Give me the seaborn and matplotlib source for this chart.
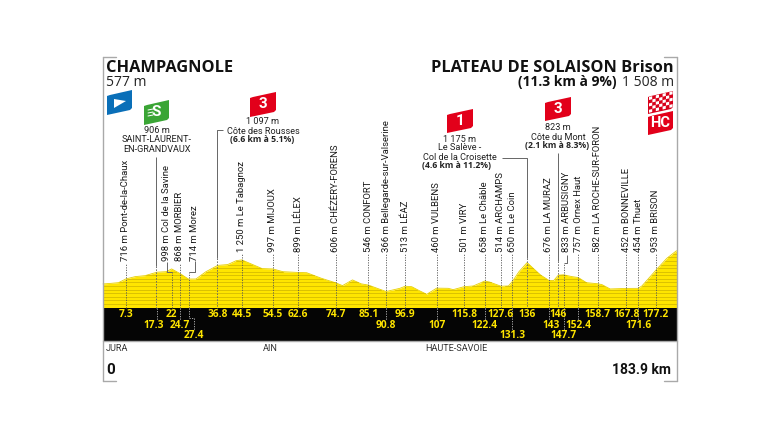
"""Stage profile: Champagnole to Plateau de Solaison."""

import matplotlib.pyplot as plt
import numpy as np
import pandas as pd
import seaborn as sns
from matplotlib.patches import Polygon

# profile line
PROFILE_KM = [0, 2.7, 5, 7.3, 10.3, 13.5, 17.3, 20.3, 22, 24.7, 27.4, 29.8, 33, 36.8, 40, 42.7, 44.5,
              48, 51, 54.5, 57.7, 62.6, 65.3, 70, 74.7, 76.8, 80, 82.8, 85.1, 88.7, 90.8, 92.5, 95.2,
              96.9, 99, 101, 103.8, 107, 110.7, 112.3, 115.8, 118.7, 122.4, 124, 127.6, 130, 131.3,
              133.4, 136, 137.6, 140.3, 143, 144.5, 146, 147.7, 150.4, 152.4, 155, 158.7, 160, 162.6,
              167.8, 171.6, 172.8, 177.2, 180.8, 183.9]
PROFILE_M = [577, 595, 614, 716, 782, 810, 906, 921, 998, 868, 714, 716, 920, 1097, 1120, 1228, 1250,
             1120, 1008, 997, 920, 899, 892, 737, 606, 530, 690, 580, 546, 430, 366, 400, 455,
             513, 500, 408, 287, 460, 455, 418, 501, 520, 658, 630, 514, 520, 650,
             922, 1175, 1043, 828, 676, 670, 823, 833, 782, 757, 614, 582, 558, 437,
             452, 454, 520, 953, 1295, 1508]

# vertical labels along the route
PLACE_KM = [7.3, 22, 24.7, 27.4, 44.5, 54.5, 62.6, 74.7, 85.1, 90.8, 96.9, 107, 115.8, 122.4, 127.6,
            131.3, 143, 147.7, 152.4, 158.7, 167.8, 171.6, 177.2]
PLACE_NAMES = ["716 m Pont-de-la-Chaux", "998 m Col de la Savine", "868 m MORBIER", "714 m Morez",
               "1 250 m Le Tabagnoz", "997 m MIJOUX", "899 m LÉLEX", "606 m CHÉZERY-FORENS",
               "546 m CONFORT", "366 m Bellegarde-sur-Valserine", "513 m LÉAZ", "460 m VULBENS",
               "501 m VIRY", "658 m Le Châble", "514 m ARCHAMPS", "650 m Le Coin", "676 m LA MURAZ",
               "833 m ARBUSIGNY", "757 m Ornex Haut", "582 m LA ROCHE-SUR-FORON", "452 m BONNEVILLE",
               "454 m Thuet", "953 m BRISON"]

# distance labels in the black band, one list per row
ROW1_KM = [7.3, 22, 36.8, 44.5, 54.5, 62.6, 74.7, 85.1, 96.9, 115.8, 127.6, 136, 146, 158.7, 167.8, 177.2]
ROW2_KM = [17.3, 24.7, 90.8, 107, 122.4, 143, 152.4, 171.6]
ROW3_KM = [27.4, 131.3, 147.7]
ROW1_TXT = ["7.3", "22", "36.8", "44.5", "54.5", "62.6", "74.7", "85.1", "96.9", "115.8", "127.6", "136",
            "146", "158.7", "167.8", "177.2"]
ROW2_TXT = ["17.3", "24.7", "90.8", "107", "122.4", "143", "152.4", "171.6"]
ROW3_TXT = ["27.4", "131.3", "147.7"]

DEPARTMENTS = ["JURA", "AIN", "HAUTE-SAVOIE"]
DEPARTMENT_KM = [0.8, 51.3, 103.2]

W, H = 768, 432
LEFT, RIGHT = 103, 676.5
BAND_TOP, BAND_BOTTOM = 307.7, 340.7
M_PER_PX = 28
TOP_M = 1508
TOP_PX = 250.7
YELLOW = "#ffe500"
LABEL_FONT = ["Roboto", "DejaVu Sans"]
BOLD_FONT = ["Open Sans", "DejaVu Sans"]
DOT = (0, (1.5, 1.5))

# labels that sit beside their leader, in pixels
LABEL_SHIFT = {22: -5, 24.7: -1, 27.4: 6, 147.7: 3}
ROW_SHIFT = {17.3: -3, 27.4: 5, 143: 2}

sns.set_theme(style="white")
plt.rcParams["font.family"] = ["Open Sans", "DejaVu Sans"]


def px_x(px):
    return (px - LEFT) / (RIGHT - LEFT) * 183.9


def px_y(px):
    return TOP_M - (px - TOP_PX) * M_PER_PX


def line(ax, x_px, y_px, dotted=False):
    """Thin grey leader, given in pixels."""
    ax.plot([px_x(a) for a in x_px], [px_y(b) for b in y_px], color="#666666", lw=0.7,
            ls=DOT if dotted else "-", zorder=3, solid_capstyle="butt")


def flag(ax, x0, y0, w, h, color, text="", size=11):
    """Slanted race marker, given in pixels from the picture's top left."""
    pts = [(x0, y0 + 6), (x0 + 3, y0 + 5), (x0 + w, y0), (x0 + w, y0 + h - 7), (x0 + w - 2, y0 + h - 5), (x0, y0 + h)]
    ax.add_patch(Polygon([(px_x(a), px_y(b)) for a, b in pts], closed=True, color=color, lw=0, zorder=5))
    if text:
        ax.text(px_x(x0 + w / 2), px_y(y0 + h / 2), text, color="white", fontsize=size, fontweight="bold",
                family=LABEL_FONT, ha="center", va="center", zorder=6)


def white_poly(ax, pts):
    ax.add_patch(Polygon([(px_x(a), px_y(b)) for a, b in pts], closed=True, color="white", lw=0, zorder=6))


df = pd.DataFrame({"km": PROFILE_KM, "m": PROFILE_M})
fig = plt.figure(figsize=(W / 100, H / 100), dpi=100)
# axes span the whole picture, pixel helpers convert into km / metres
ax = fig.add_axes([0, 0, 1, 1])
ax.set_xlim(px_x(0), px_x(W))
ax.set_ylim(px_y(H), px_y(0))
ax.axis("off")

base = px_y(BAND_TOP)
ax.fill_between(df["km"], base, df["m"], color=YELLOW, lw=0, zorder=1)
sns.lineplot(data=df, x="km", y="m", color="#e8d000", lw=0.6, ax=ax, zorder=2, legend=False)
ax.set_xlabel("")
ax.set_ylabel("")

# darker horizontal stripes inside the yellow
xs = np.linspace(0, 183.9, 900)
ys = np.interp(xs, df["km"], df["m"])
for lev in np.arange(base + 3.6 * M_PER_PX, TOP_M, 3.6 * M_PER_PX):
    ax.plot(xs, np.where(ys > lev, lev, np.nan), color="#d6bc00", lw=0.6, zorder=2)

# black band
ax.axhspan(px_y(BAND_BOTTOM), base, xmin=LEFT / W, xmax=RIGHT / W, color="#050505", lw=0, zorder=1)

# frame lines
frame = "#a9a9a9"
for x_px, y_px in [([LEFT, LEFT], [57, 381]), ([LEFT, 116], [57, 57]), ([LEFT, 116], [381, 381]),
                   ([RIGHT, RIGHT], [57, 381]), ([664, RIGHT], [57, 57]), ([664, RIGHT], [381, 381]),
                   ([LEFT, RIGHT], [341.2, 341.2])]:
    ax.plot([px_x(a) for a in x_px], [px_y(b) for b in y_px], color=frame, lw=1)

# route labels and dotted leaders
for i, (km, name) in enumerate(zip(PLACE_KM, PLACE_NAMES)):
    bottom = 261 if i < 4 else 252
    x_px = LEFT + km * (RIGHT - LEFT) / 183.9
    shift = LABEL_SHIFT.get(km, 0)
    if km not in LABEL_SHIFT or km == 24.7:
        ax.plot([km, km], [px_y(BAND_TOP), px_y(bottom + 2)], color="#555555", lw=0.6, ls=DOT, zorder=3)
    ax.text(px_x(x_px + shift), px_y(bottom), name, rotation=90, ha="center", va="bottom", fontsize=6.8,
            family=LABEL_FONT, color="#1a1a1a")

# little elbows from shifted labels down to the route
for x_a, x_b, y_top, y_mid in [(166.7, 171.6, 262, 271.5), (194.5, 188.5, 261, 272), (566.8, 563.8, 255, 263)]:
    ax.plot([px_x(x_b)] * 2, [px_y(BAND_TOP), px_y(y_mid)], color="#555555", lw=0.6, ls=DOT, zorder=3)
    line(ax, [x_a, x_a, x_b], [y_top, y_mid, y_mid])

# distance rows
for kms, txts, py in [(ROW1_KM, ROW1_TXT, 314.5), (ROW2_KM, ROW2_TXT, 325.2), (ROW3_KM, ROW3_TXT, 335.6)]:
    for km, t in zip(kms, txts):
        x_px = LEFT + km * (RIGHT - LEFT) / 183.9 + ROW_SHIFT.get(km, 0)
        ax.text(px_x(x_px), px_y(py), t, color=YELLOW, fontsize=7.3, fontweight="bold", ha="center", va="center",
                zorder=4)

# dots inside the band down to the lower rows
for kms, py in [(ROW2_KM, 320), (ROW3_KM, 330)]:
    for km in kms:
        if km == 27.4:
            continue
        ax.plot([km, km], [px_y(BAND_TOP + 0.5), px_y(py)], color="#bbbbbb", lw=0.6, ls=DOT, zorder=3)
ax.plot([px_x(188.5), px_x(188.5), px_x(194), px_x(194)], [px_y(BAND_TOP + 0.5), px_y(318), px_y(318), px_y(330)],
        color="#bbbbbb", lw=0.6, ls=DOT, zorder=3)

# long leaders for the named points, solid above the dotted part
line(ax, [156.3, 156.3], [157, 266])
line(ax, [156.3, 156.3], [266, BAND_TOP], dotted=True)
line(ax, [223, 216.7, 216.7], [130, 130, 258])
line(ax, [216.7, 216.7], [258, BAND_TOP], dotted=True)
line(ax, [501.7, 526.7, 526.7], [157.7, 157.7, 258])
line(ax, [526.7, 526.7], [258, BAND_TOP], dotted=True)
line(ax, [558.3, 558.3], [153, 261])
line(ax, [558.3, 558.3], [261, BAND_TOP], dotted=True)

# departments and end labels
for name, km in zip(DEPARTMENTS, DEPARTMENT_KM):
    ax.text(km, px_y(348.3), name, fontsize=6.6, family=LABEL_FONT, color="#333333", ha="left", va="center")
ax.text(px_x(106), px_y(370), "0", fontsize=11, fontweight="bold", family=LABEL_FONT, color="#111111",
        ha="left", va="center")
ax.text(px_x(671), px_y(370), "183.9 km", fontsize=10, fontweight="bold", family=LABEL_FONT,
        color="#111111", ha="right", va="center")

# titles
ax.text(px_x(106), px_y(67.5), "CHAMPAGNOLE", fontsize=11.8, fontweight="bold", color="#111111", va="center")
ax.text(px_x(106), px_y(82), "577 m", fontsize=10, color="#222222", va="center")
ax.text(px_x(674), px_y(67.5), "PLATEAU DE SOLAISON Brison", fontsize=11.8, fontweight="bold", color="#111111",
        ha="right", va="center")
ax.text(px_x(674), px_y(82), "1 508 m", fontsize=10, color="#222222", ha="right", va="center")
ax.text(px_x(617), px_y(82), "(11.3 km à 9%)", fontsize=10, fontweight="bold", color="#111111", ha="right",
        va="center")

# climb captions
for px, py, t, bold in [(157, 130.5, "906 m", False), (157, 140, "SAINT-LAURENT-", False),
                        (157, 149, "EN-GRANDVAUX", False), (263, 121.5, "1 097 m", False),
                        (263, 131, "Côte des Rousses", False), (262, 140, "(6.6 km à 5.1%)", True),
                        (460, 139, "1 175 m", False), (460, 148, "Le Salève -", False),
                        (460, 157, "Col de la Croisette", False), (457, 166, "(4.6 km à 11.2%)", True),
                        (558, 127.5, "823 m", False), (558, 137, "Côte du Mont", False),
                        (557, 146, "(2.1 km à 8.3%)", True)]:
    ax.text(px_x(px), px_y(py), t, fontsize=6.2 if bold else 6.6, family=BOLD_FONT if bold else LABEL_FONT,
            fontweight="bold" if bold else "normal", color="#222222", ha="center", va="center")

# race markers
flag(ax, 107, 90, 25, 25, "#0a6fb8")
white_poly(ax, [(114, 99), (126, 101), (114, 108)])
flag(ax, 144, 100, 25, 25, "#3aa535", "S")
for k in range(3):
    line_y = 109 + k * 3
    ax.plot([px_x(148), px_x(153)], [px_y(line_y + 1), px_y(line_y)], color="white", lw=0.7, zorder=6)
flag(ax, 250, 92, 26, 25, "#e2001a", "3")
flag(ax, 447, 109, 26, 24, "#e2001a", "1")
flag(ax, 545, 97, 26, 24, "#e2001a", "3")
flag(ax, 648, 91, 25, 23, "#d8001a")
for col in range(7):
    for row in range(5):
        if (col + row) % 2 == 0:
            cx = 649 + col * 3.4
            cy = 97 - (cx - 649) * 0.24 + row * 3.2
            white_poly(ax, [(cx, cy), (cx + 3.2, cy - 0.8), (cx + 3.2, cy + 2.2), (cx, cy + 3)])
flag(ax, 648, 111, 25, 24, "#e2001a", "HC", 10.5)

fig.savefig("out.png", dpi=100)
